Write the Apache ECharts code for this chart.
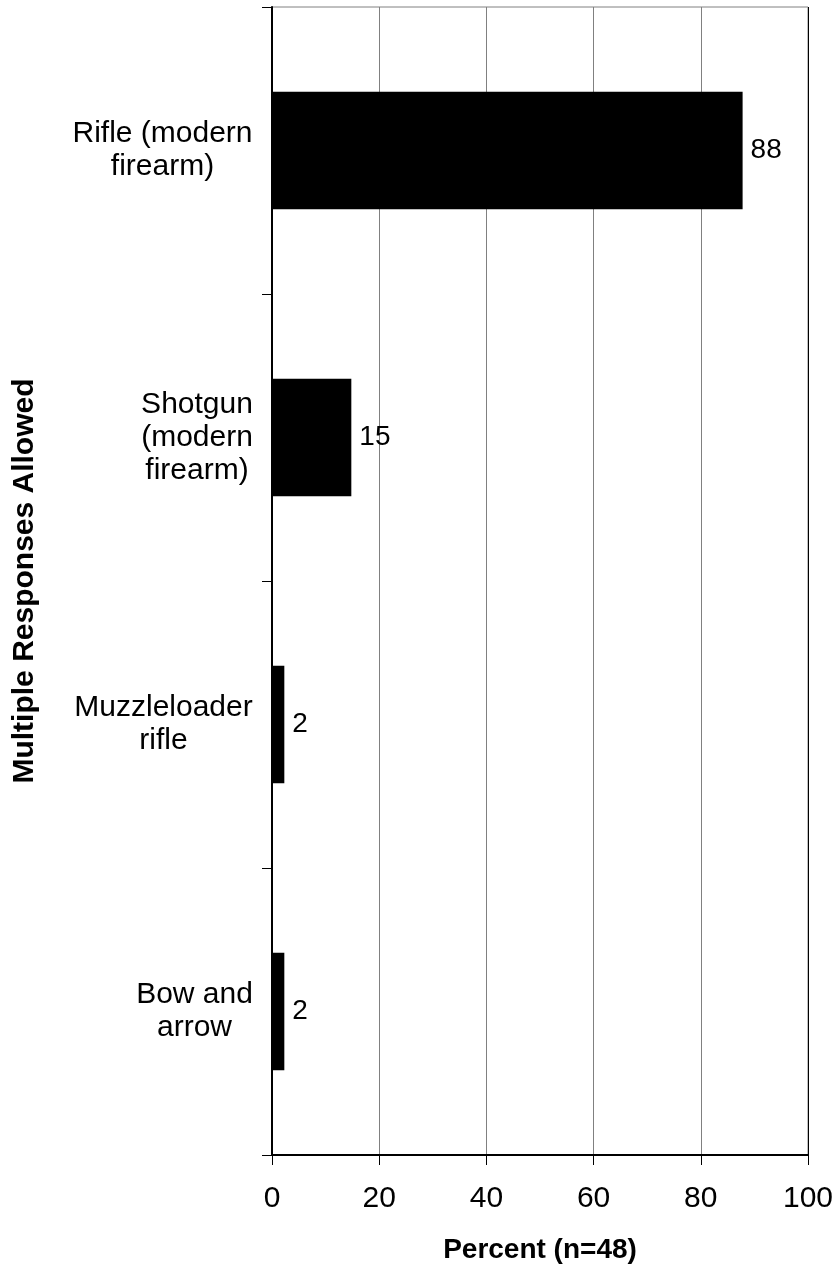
<!DOCTYPE html>
<html>
<head>
<meta charset="utf-8">
<script src="https://cdn.jsdelivr.net/npm/echarts@6/dist/echarts.min.js"></script>
<style>
html,body{margin:0;padding:0;background:#fff;}
#chart{width:836px;height:1266px;}
</style>
</head>
<body>
<div id="chart"></div>
<script>
var categories = ['Rifle (modern\nfirearm)', 'Shotgun\n(modern\nfirearm)', 'Muzzleloader\nrifle', 'Bow and\narrow'];
var percentValues = [87.8, 14.8, 2.3, 2.3];
var xTicks = [0, 20, 40, 60, 80, 100];
var xAxisTitle = 'Percent (n=48)';
var yAxisTitle = 'Multiple Responses Allowed';

var FONT = '"Liberation Sans", Arial, sans-serif';
var FS = 30;

// measure widest line of each category label so lines can be centered within the block
var cv = document.createElement('canvas').getContext('2d');
cv.font = FS + 'px ' + FONT;
var rich = {};
categories.forEach(function (c, i) {
  var w = 0;
  c.split('\n').forEach(function (l) { w = Math.max(w, cv.measureText(l).width); });
  rich['c' + i] = { width: Math.ceil(w), align: 'center', fontSize: FS, fontFamily: FONT, color: '#000', lineHeight: 33 };
});

var chart = echarts.init(document.getElementById('chart'));
chart.setOption({
  backgroundColor: '#fff',
  animation: false,
  grid: { left: 272, right: 28, top: 7, bottom: 111, show: true, borderColor: '#808080', borderWidth: 1,
          containLabel: false, outerBoundsMode: 'none' },
  xAxis: {
    type: 'value', min: 0, max: 100, interval: 20,
    name: xAxisTitle, nameLocation: 'middle', nameGap: 81,
    nameTextStyle: { fontSize: 28, fontWeight: 'bold', fontFamily: FONT, color: '#000' },
    axisLine: { show: true, lineStyle: { color: '#000', width: 2 } },
    axisTick: { show: true, length: 10, lineStyle: { color: '#000', width: 1 } },
    axisLabel: { fontSize: FS, fontFamily: FONT, color: '#000', margin: 29,
      formatter: function (v) { return xTicks.indexOf(v) >= 0 ? String(v) : ''; } },
    splitLine: { show: true, lineStyle: { color: ['#000', '#808080', '#808080', '#808080', '#808080', '#000'], width: 1 } }
  },
  yAxis: {
    type: 'category', data: categories, inverse: true,
    name: yAxisTitle, nameLocation: 'middle', nameGap: 232, nameRotate: 90,
    nameTextStyle: { fontSize: 30, fontWeight: 'bold', fontFamily: FONT, color: '#000' },
    axisLine: { show: true, lineStyle: { color: '#000', width: 2 } },
    axisTick: { show: true, length: 10, alignWithLabel: false, lineStyle: { color: '#000', width: 1 } },
    axisLabel: {
      margin: 19, align: 'right', fontSize: FS, fontFamily: FONT, color: '#000', lineHeight: 33,
      formatter: function (v, i) {
        return v.split('\n').map(function (l) { return '{c' + i + '|' + l + '}'; }).join('\n');
      },
      rich: rich
    },
    splitLine: { show: false }
  },
  series: [{
    type: 'bar',
    data: percentValues,
    barCategoryGap: '59%',
    itemStyle: { color: '#000' },
    label: {
      show: true, position: 'right', distance: 8,
      fontSize: 28, fontFamily: FONT, color: '#000',
      formatter: function (p) { return String(Math.round(p.value)); }
    }
  }]
});
</script>
</body>
</html>
